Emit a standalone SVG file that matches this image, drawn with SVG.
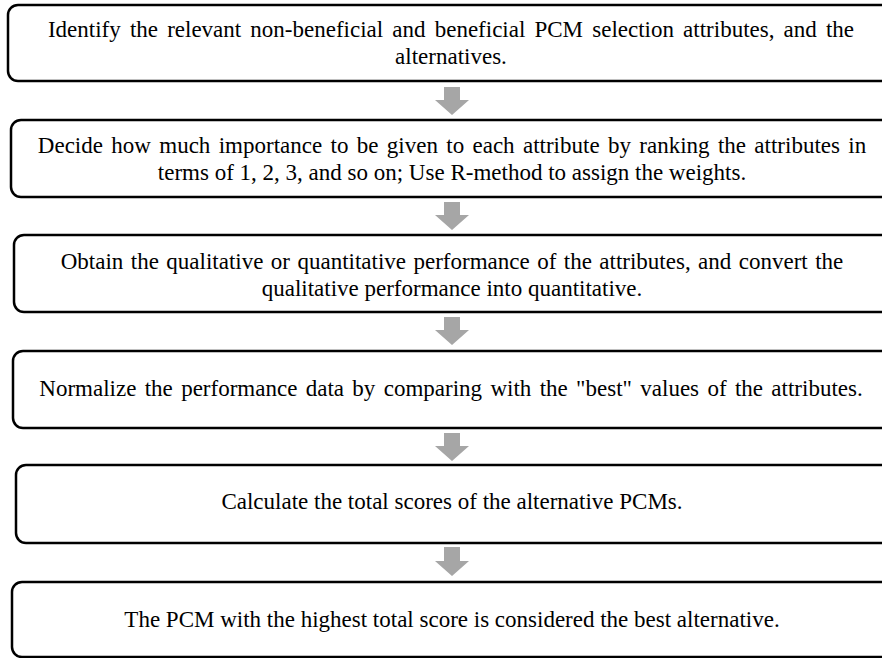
<svg xmlns="http://www.w3.org/2000/svg" width="882" height="658" viewBox="0 0 882 658">
<style>
.box{fill:#fff;stroke:#000;stroke-width:2.5}
.t{font-family:"Liberation Serif","Times New Roman",serif;font-size:23px;fill:#000;text-anchor:middle}
.arr{fill:#a6a6a6}
</style>
<rect width="882" height="658" fill="#fff"/>
<g id="connectors">
<polygon class="arr" points="444,87 460,87 460,100 469,100 452,115 435,100 444,100"/>
<polygon class="arr" points="444,202 460,202 460,215 469,215 452,230 435,215 444,215"/>
<polygon class="arr" points="444,317 460,317 460,330 469,330 452,345 435,330 444,330"/>
<polygon class="arr" points="444,433 460,433 460,446 469,446 452,461 435,446 444,446"/>
<polygon class="arr" points="444,547 460,547 460,561 469,561 452,576 435,561 444,561"/>
</g>
<g id="n1"><rect class="box" x="8" y="5" width="900" height="76" rx="10"/>
<text class="t" x="451" y="37" word-spacing="3.4">Identify the relevant non-beneficial and beneficial PCM selection attributes, and the</text>
<text class="t" x="451" y="64">alternatives.</text></g>
<g id="n2"><rect class="box" x="11" y="120" width="900" height="77" rx="10"/>
<text class="t" x="452" y="153" word-spacing="2.6">Decide how much importance to be given to each attribute by ranking the attributes in</text>
<text class="t" x="452" y="180">terms of 1, 2, 3, and so on; Use R-method to assign the weights.</text></g>
<g id="n3"><rect class="box" x="14" y="235" width="900" height="77" rx="10"/>
<text class="t" x="452" y="269" word-spacing="1.7">Obtain the qualitative or quantitative performance of the attributes, and convert the</text>
<text class="t" x="452" y="296">qualitative performance into quantitative.</text></g>
<g id="n4"><rect class="box" x="13" y="351" width="900" height="77" rx="10"/>
<text class="t" x="451" y="396" word-spacing="2.6">Normalize the performance data by comparing with the "best" values of the attributes.</text></g>
<g id="n5"><rect class="box" x="16" y="465" width="900" height="78" rx="10"/>
<text class="t" x="452" y="509">Calculate the total scores of the alternative PCMs.</text></g>
<g id="n6"><rect class="box" x="12" y="582" width="900" height="75" rx="10"/>
<text class="t" x="452" y="627">The PCM with the highest total score is considered the best alternative.</text></g>
</svg>
